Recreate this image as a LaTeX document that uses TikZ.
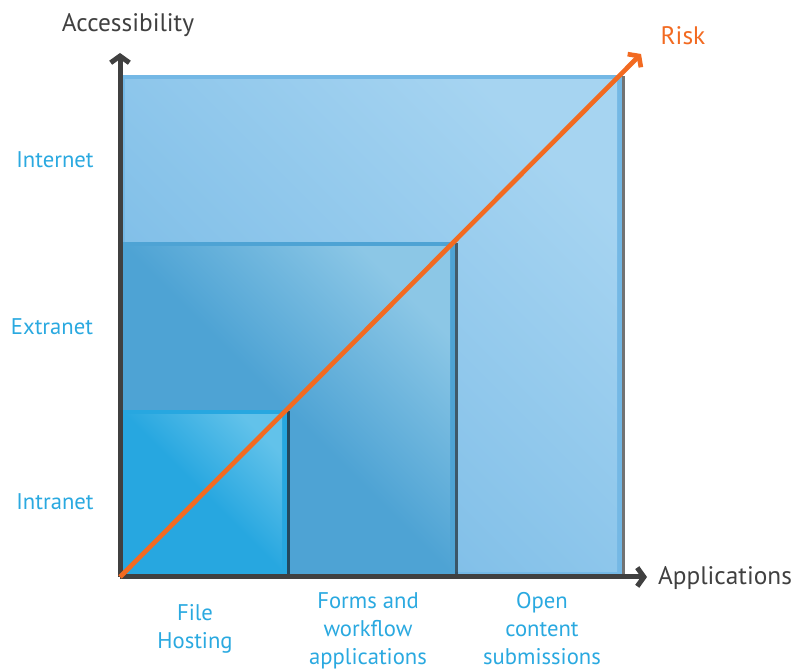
\documentclass[tikz,border=0pt]{standalone}
\usepackage{fontspec}
\setmainfont{PT Sans}
\usetikzlibrary{arrows.meta,shadows}
\definecolor{axisgray}{HTML}{404040}
\definecolor{riskorange}{HTML}{F26A21}
\definecolor{labelblue}{HTML}{2AA9E0}
\definecolor{outerblue}{HTML}{74B8E5}
\definecolor{outerlight}{HTML}{A6D4F1}
\definecolor{midblue}{HTML}{4EA3D4}
\definecolor{midlight}{HTML}{8CC7E6}
\definecolor{innerblue}{HTML}{27A7E0}
\definecolor{innerlight}{HTML}{62C2EA}
\tikzset{%
  >={Straight Barb[length=5pt,width=14pt]},
  % Specifications for style of nodes:
          box/.style = {rectangle, anchor=south west, inner sep=0pt, outer sep=0pt,
                        drop shadow={shadow xshift=2.5pt, shadow yshift=-1pt,
                                     opacity=0.55, fill=black}},
     outerbox/.style = {box, fill=outerblue, minimum size=376.5pt,
                        path picture={\shade[top color=outerlight, bottom color=outerblue,
                          shading angle=-45]
                          ([shift={(3.75pt,3.75pt)}]path picture bounding box.south west)
                          rectangle ([shift={(-3.75pt,-3.75pt)}]path picture bounding box.north east);}},
       midbox/.style = {box, fill=midblue, minimum size=251.25pt,
                        path picture={\shade[top color=midlight, bottom color=midblue,
                          shading angle=-45, middle color=midblue]
                          ([shift={(3.75pt,3.75pt)}]path picture bounding box.south west)
                          rectangle ([shift={(-3.75pt,-3.75pt)}]path picture bounding box.north east);}},
     innerbox/.style = {box, fill=innerblue, minimum size=125.25pt,
                        path picture={\shade[top color=innerlight, bottom color=innerblue,
                          shading angle=-45, middle color=innerblue]
                          ([shift={(3.75pt,3.75pt)}]path picture bounding box.south west)
                          rectangle ([shift={(-3.75pt,-3.75pt)}]path picture bounding box.north east);}},
        level/.style = {text=labelblue, font=\fontsize{17}{21}\selectfont},
          app/.style = {level, align=center, anchor=north},
         axis/.style = {->, draw=axisgray, line width=3.75pt},
}

\begin{document}
\begin{tikzpicture}[x=0.75pt, y=0.75pt]
  \useasboundingbox (0,0) rectangle (793,670);
  % Specification of corner points
  \coordinate (origin) at (120,93);
  \coordinate (acctip) at (120,617);
  \coordinate (apptip) at (647,93);
  \coordinate (risktip) at (641,616);

  % Specification of boxes (largest first)
  \node (internetbox) [outerbox] at (origin) {};
  \node (extranetbox) [midbox]   at (origin) {};
  \node (intranetbox) [innerbox] at (origin) {};

  % Axes and risk line
  \draw[axis] (origin) -- (acctip);
  \draw[axis] (origin) -- (apptip);
  \draw[->, draw=riskorange, line width=3.5pt] (origin) -- (risktip);

  % Axis titles
  \node (acc)  [text=axisgray, font=\fontsize{19}{21}\selectfont] at (128,645) {Accessibility};
  \node (risk) [text=riskorange, font=\fontsize{19}{21}\selectfont] at (683,634) {Risk};
  \node (apps) [text=axisgray, font=\fontsize{19}{21}\selectfont] at (725,92) {Applications};

  % Levels of accessibility
  \node (internet) [level] at (55,510) {Internet};
  \node (extranet) [level] at (52,343) {Extranet};
  \node (intranet) [level] at (55,168) {Intranet};

  % Kinds of applications
  \node (hosting) [app] at (195,70) {File\\Hosting};
  \node (forms)   [app] at (368,82) {Forms and\\workflow\\applications};
  \node (open)    [app] at (542,82) {Open\\content\\submissions};
\end{tikzpicture}
\end{document}
